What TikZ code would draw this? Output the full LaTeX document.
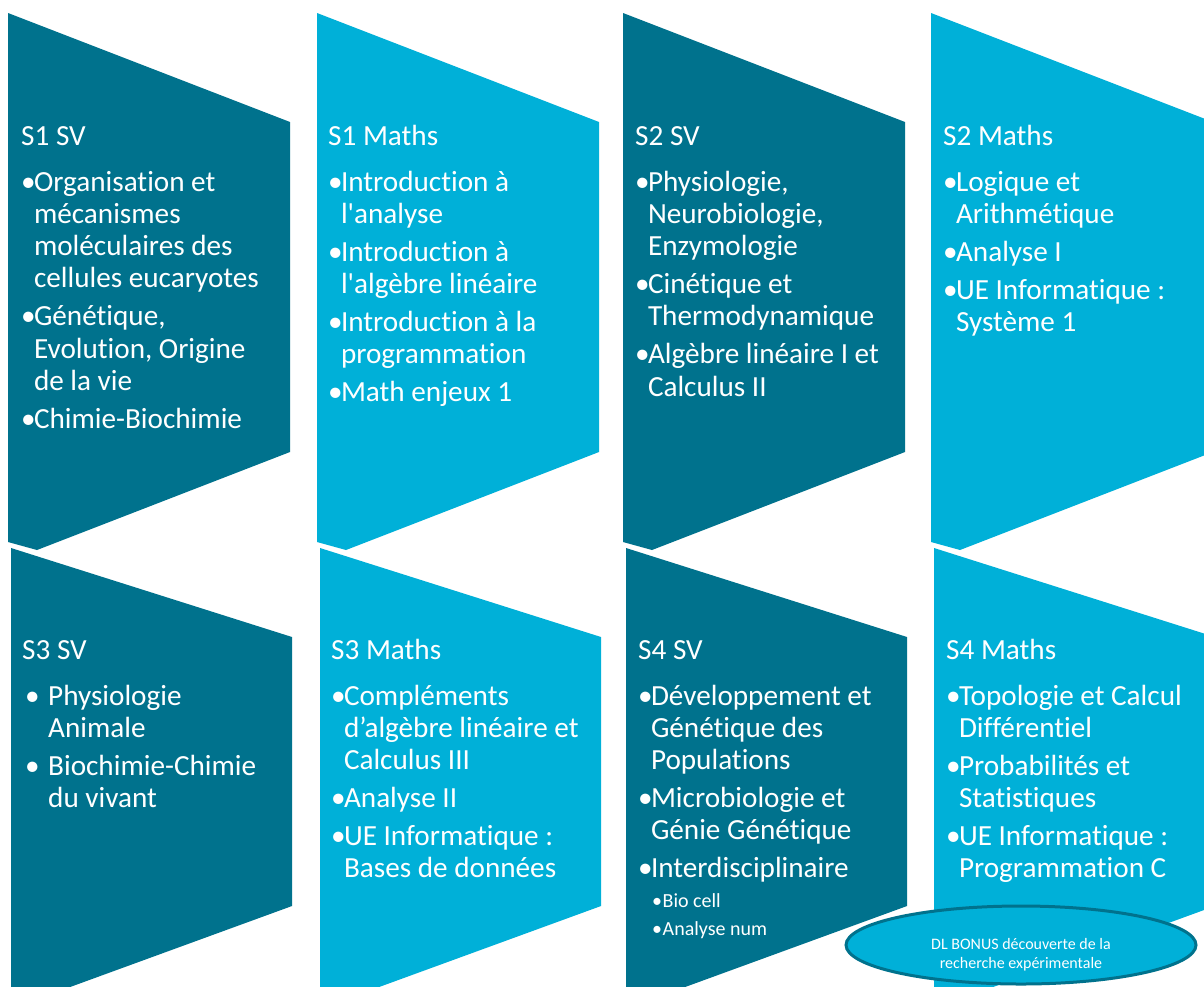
\documentclass[tikz,border=0pt]{standalone}
\usepackage{fontspec}
\setmainfont{Carlito}[Ligatures=TeXOff, RawFeature=-liga, RawFeature=-clig, RawFeature=-calt, RawFeature=-dlig]
\definecolor{dk}{RGB}{0,114,141}
\definecolor{lt}{RGB}{0,176,216}
\newcommand\bl{\makebox[12.8pt][l]{•}}
\newcommand\cn{\hspace*{12.8pt}}
\newcommand\bls{\makebox[26pt][l]{\hspace*{3pt}•}}
\newcommand\cns{\hspace*{26pt}}
\newcommand\hs{\\[13.7pt]}
\newcommand\is{\\[5.7pt]}
\newcommand\bsub{\makebox[10.5pt][l]{•}}
\tikzset{
  dkshape/.style={fill=dk,draw=none},
  ltshape/.style={fill=lt,draw=none},
  txt/.style={anchor=base west,inner sep=0pt,text=white,font=\fontsize{29.2}{32.3}\selectfont},
  subtxt/.style={anchor=base west,inner sep=0pt,text=white,font=\fontsize{20}{28}\selectfont},
  bonusshape/.style={fill=lt,draw=dk,line width=3pt},
  bonustxt/.style={anchor=base,inner sep=0pt,text=white,font=\fontsize{16}{19}\selectfont},
}
\newcommand\toprow[2]{%
  \fill[#2] (#1,13) -- ++(282,109) -- ++(0,330) -- (#1+29,550) -- (#1,542) -- cycle;}
\newcommand\botrow[2]{%
  \fill[#2] (#1,548) -- ++(281,89) -- ++(0,269) -- (#1+29,998) -- (#1,990) -- cycle;}
\begin{document}
\begin{tikzpicture}[x=1pt,y=-1pt]
\fill[white] (0,0) rectangle (1204,986);
\clip (0,0) rectangle (1204,986);
% top row shapes
\toprow{8}{dkshape}
\toprow{317}{ltshape}
\toprow{623}{dkshape}
\toprow{931}{ltshape}
% bottom row shapes
\botrow{11}{dkshape}
\botrow{320}{ltshape}
\botrow{626}{dkshape}
\botrow{934}{ltshape}

% texts top row
\node[txt] (s1sv) at (21,145) {\parbox[t]{290pt}{\raggedright S1 SV\hs
\bl Organisation et\\ \cn mécanismes\\ \cn moléculaires des\\ \cn cellules eucaryotes\is
\bl Génétique,\\ \cn Evolution, Origine\\ \cn de la vie\is
\bl Chimie-Biochimie}};
\node[txt] (s1m) at (328,145) {\parbox[t]{290pt}{\raggedright S1 Maths\hs
\bl Introduction à\\ \cn l'analyse\is
\bl Introduction à\\ \cn l'algèbre linéaire\is
\bl Introduction à la\\ \cn programmation\is
\bl Math enjeux 1}};
\node[txt] (s2sv) at (635,145) {\parbox[t]{290pt}{\raggedright S2 SV\hs
\bl Physiologie,\\ \cn Neurobiologie,\\ \cn Enzymologie\is
\bl Cinétique et\\ \cn Thermodynamique\is
\bl Algèbre linéaire I et\\ \cn Calculus II}};
\node[txt] (s2m) at (943,145) {\parbox[t]{290pt}{\raggedright S2 Maths\hs
\bl Logique et\\ \cn Arithmétique\is
\bl Analyse I\is
\bl UE Informatique :\\ \cn Système 1}};

% texts bottom row
\node[txt] (s3sv) at (22,659) {\parbox[t]{290pt}{\raggedright S3 SV\hs
\bls Physiologie\\ \cns Animale\is
\bls Biochimie-Chimie\\ \cns du vivant}};
\node[txt] (s3m) at (331,659) {\parbox[t]{290pt}{\raggedright S3 Maths\hs
\bl Compléments\\ \cn d’algèbre linéaire et\\ \cn Calculus III\is
\bl Analyse II\is
\bl UE Informatique :\\ \cn Bases de données}};
\node[txt] (s4sv) at (638,659) {\parbox[t]{290pt}{\raggedright S4 SV\hs
\bl Développement et\\ \cn Génétique des\\ \cn Populations\is
\bl Microbiologie et\\ \cn Génie Génétique\is
\bl Interdisciplinaire}};
\node[subtxt] (s4sub) at (652,907) {\parbox[t]{200pt}{\raggedright
\bsub Bio cell\\ \bsub Analyse num}};
\node[txt] (s4m) at (946,659) {\parbox[t]{290pt}{\raggedright S4 Maths\hs
\bl Topologie et Calcul\\ \cn Différentiel\is
\bl Probabilités et\\ \cn Statistiques\is
\bl UE Informatique :\\ \cn Programmation C}};

% bonus ellipse
\draw[bonusshape] (1021,945) ellipse [x radius=175, y radius=39];
\node[bonustxt] (bonus) at (1021,949) {\parbox[t]{220pt}{\centering DL BONUS découverte de la\\ recherche expérimentale}};
\end{tikzpicture}
\end{document}
